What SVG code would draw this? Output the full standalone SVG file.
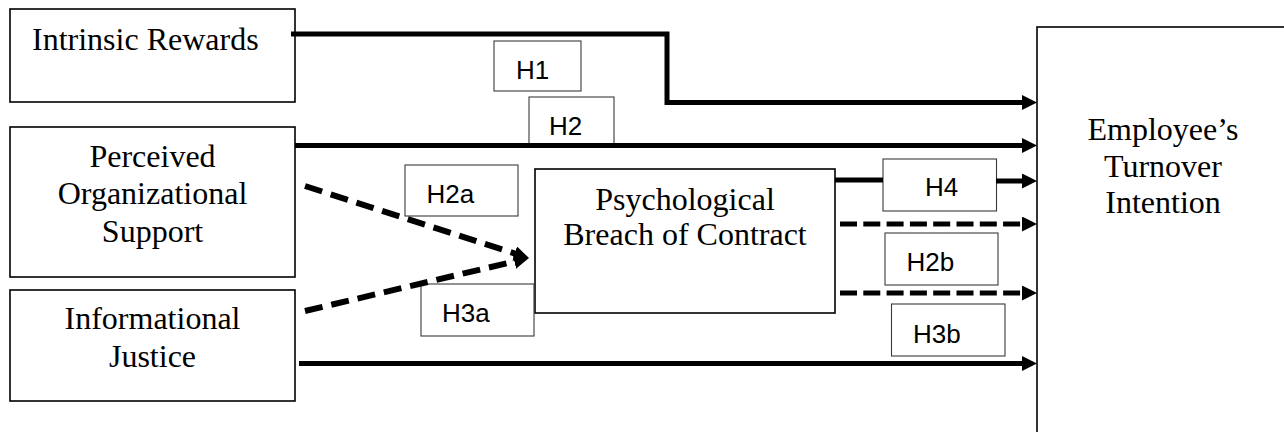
<svg xmlns="http://www.w3.org/2000/svg" width="1284" height="432" viewBox="0 0 1284 432">
<defs>
<style>
.node{fill:#fff;stroke:#000;stroke-width:1.6}
.lab{fill:#fff;stroke:#3a3a3a;stroke-width:1.1}
.t{font-family:"Liberation Serif","Times New Roman",serif;font-size:32px;fill:#000}
.c{text-anchor:middle}
.h{font-family:"Liberation Sans",Arial,sans-serif;font-size:26px;fill:#000}
.solid{fill:none;stroke:#000;stroke-width:5}
.dash{fill:none;stroke:#000;stroke-width:5;stroke-dasharray:17 6.3}
.ddash{fill:none;stroke:#000;stroke-width:6;stroke-dasharray:18 9}
</style>
<marker id="ah" markerUnits="userSpaceOnUse" markerWidth="16" markerHeight="16" refX="2" refY="7.5" orient="auto">
<path d="M0,0 L15,7.5 L0,15 Z" fill="#000"/>
</marker>
</defs>
<rect width="1284" height="432" fill="#fff"/>

<g id="employee">
<rect class="node" x="1037" y="27" width="280" height="430"/>
<text class="t c" x="1163" y="140">Employee’s</text>
<text class="t c" x="1163" y="176.5">Turnover</text>
<text class="t c" x="1163" y="213">Intention</text>
</g>

<g id="intrinsic">
<rect class="node" x="10" y="9" width="285" height="93"/>
<text class="t" x="32" y="50">Intrinsic Rewards</text>
</g>

<g id="pos">
<rect class="node" x="10" y="127" width="285" height="150"/>
<text class="t c" x="152.5" y="166.5">Perceived</text>
<text class="t c" x="152.5" y="203.5">Organizational</text>
<text class="t c" x="152.5" y="241.5">Support</text>
</g>

<g id="ij">
<rect class="node" x="10" y="290" width="285" height="111"/>
<text class="t c" x="152.5" y="329">Informational</text>
<text class="t c" x="152.5" y="366.5">Justice</text>
</g>

<g id="psych">
<rect class="node" x="535" y="169" width="300" height="144"/>
<text class="t c" x="685" y="210">Psychological</text>
<text class="t c" x="685" y="245">Breach of Contract</text>
</g>

<g id="label-h1">
<rect class="lab" x="494" y="41" width="87" height="50"/>
<text class="h" x="516" y="79">H1</text>
</g>
<g id="label-h2">
<rect class="lab" x="529" y="97" width="85" height="48"/>
<text class="h" x="549" y="135">H2</text>
</g>
<g id="label-h2a">
<rect class="lab" x="405" y="165" width="113" height="51"/>
<text class="h" x="426.5" y="203">H2a</text>
</g>
<g id="label-h3a">
<rect class="lab" x="421" y="284" width="113" height="52"/>
<text class="h" x="442" y="322">H3a</text>
</g>
<g id="label-h4">
<rect class="lab" x="883" y="159" width="113.5" height="52"/>
<text class="h" x="925" y="196">H4</text>
</g>
<g id="label-h2b">
<rect class="lab" x="885" y="233" width="113" height="52"/>
<text class="h" x="906.5" y="271">H2b</text>
</g>
<g id="label-h3b">
<rect class="lab" x="891.5" y="304" width="113.5" height="52"/>
<text class="h" x="913" y="343">H3b</text>
</g>

<g id="connectors">
<path class="solid" d="M291,34 H667 V102.5 H1024" marker-end="url(#ah)"/>
<path class="solid" d="M295,145.5 H1024" marker-end="url(#ah)"/>
<path class="solid" d="M835,180 H883"/>
<path class="solid" d="M996,181 H1024" marker-end="url(#ah)"/>
<path class="dash" d="M840,224 H1024" marker-end="url(#ah)"/>
<path class="dash" d="M840,293 H1024" marker-end="url(#ah)"/>
<path class="solid" d="M299,363.5 H1024" marker-end="url(#ah)"/>
<path class="ddash" d="M305,186 L516.6,254.1" marker-end="url(#ah)"/>
<path class="ddash" d="M305,311 L516.3,261" marker-end="url(#ah)"/>
</g>
</svg>
